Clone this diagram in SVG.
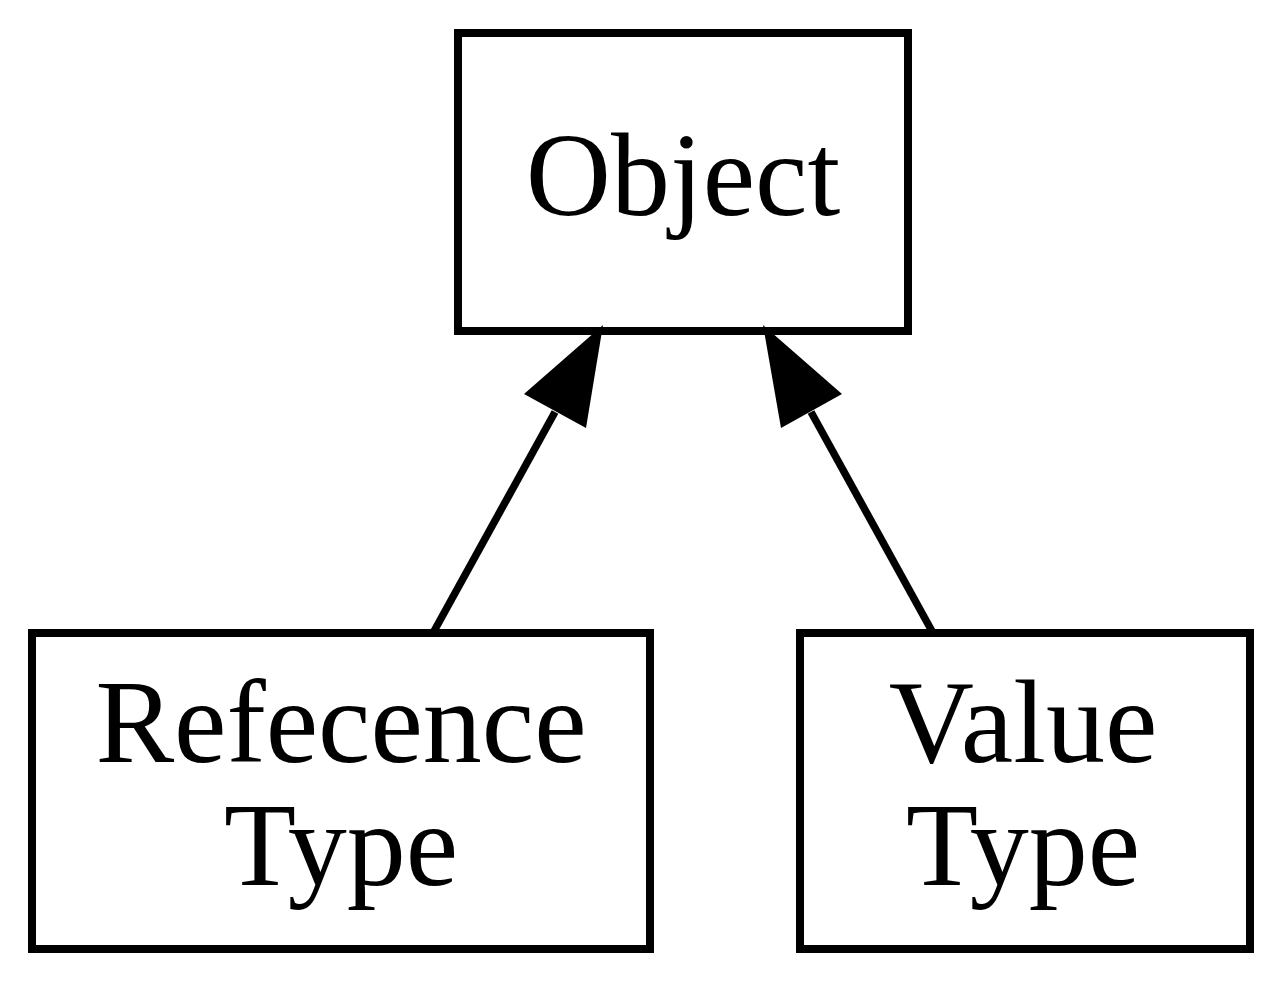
<svg xmlns="http://www.w3.org/2000/svg" width="1283" height="983" viewBox="0 0 1283 983">
<style>
.node rect{fill:#fff;stroke:#000;stroke-width:8}
.node text{font-family:"Liberation Serif","Times New Roman",serif;font-size:118px;text-anchor:middle;fill:#000}
.edge line{stroke:#000;stroke-width:7.5}
.edge polygon{fill:#000;stroke:none}
</style>
<rect width="1283" height="983" fill="#fff"/>
<g id="object" class="node">
<rect x="458" y="33" width="450" height="298"/>
<text x="683" y="215">Object</text>
</g>
<g id="reference" class="node">
<rect x="32" y="633" width="618" height="316"/>
<text x="341" y="762">Refecence</text>
<text x="341" y="885">Type</text>
</g>
<g id="value" class="node">
<rect x="800" y="633" width="450" height="316"/>
<text x="1023" y="762">Value</text>
<text x="1023" y="885">Type</text>
</g>
<g id="edges" class="edge">
<line x1="433" y1="633" x2="555" y2="412"/>
<polygon points="603,325 586,428 524,394"/>
<line x1="933" y1="633" x2="811" y2="412"/>
<polygon points="763,325 842,394 781,428"/>
</g>
</svg>
